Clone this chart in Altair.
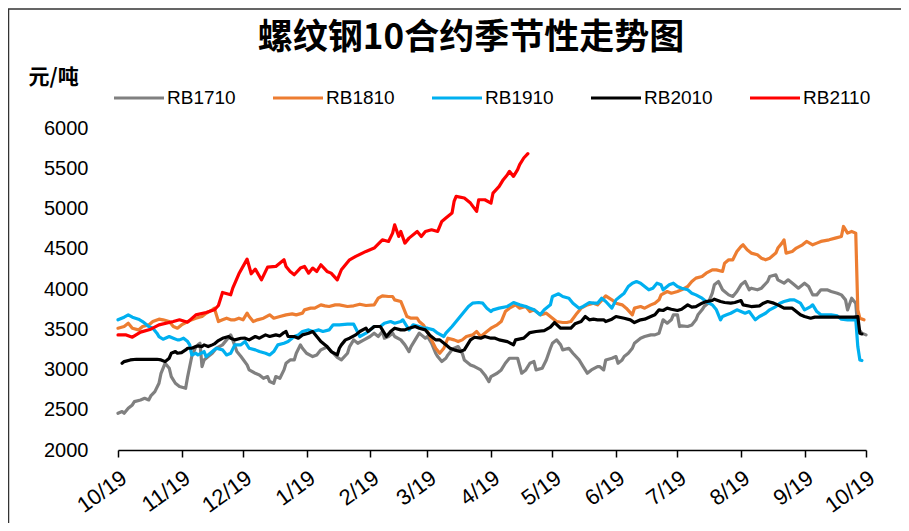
import altair as alt
import pandas as pd

BASE = "2018-10-19"
SERIES = ["RB1710", "RB1810", "RB1910", "RB2010", "RB2110"]
COLORS = ["#808080", "#ED7D31", "#00B0F0", "#000000", "#FF0000"]
WIDTHS = [3.2, 3.2, 3.2, 3.2, 5.5]
Y_TICKS = [2000, 2500, 3000, 3500, 4000, 4500, 5000, 5500, 6000]
X_TICK_MONTHS = [(2018, 10), (2018, 11), (2018, 12), (2019, 1), (2019, 2), (2019, 3), (2019, 4),
                 (2019, 5), (2019, 6), (2019, 7), (2019, 8), (2019, 9), (2019, 10)]
TITLE = "螺纹钢10合约季节性走势图"
UNIT = "元/吨"

# (days since 10/19, price)
RB1710 = [(0,2456),(2,2477),(3,2456),(5,2518),(7,2560),(8,2601),(11,2622),(13,2642),(15,2622),(16,2672),(18,2725),(20,2829),(21,2953),(23,3078),(25,3016),(26,2912),(28,2829),(30,2788),(33,2767),(34,2912),(36,3161),(38,3285),(39,3306),(40,3326),(41,3036),(42,3119),(44,3161),(46,3202),(48,3264),(51,3306),(53,3368),(55,3430),(56,3368),(58,3223),(60,3161),(63,3057),(64,2995),(67,2953),(69,2933),(71,2891),(73,2912),(74,2850),(76,2829),(77,2912),(79,2891),(81,2995),(82,3078),(84,3119),(86,3119),(87,3202),(89,3306),(90,3264),(92,3202),(95,3161),(97,3181),(99,3244),(102,3280),(104,3230),(107,3150),(109,3120),(112,3202),(113,3285),(115,3368),(117,3326),(120,3368),(123,3410),(125,3451),(127,3410),(129,3472),(130,3389),(132,3410),(134,3451),(135,3410),(138,3368),(140,3306),(142,3223),(143,3285),(145,3368),(147,3451),(148,3430),(150,3389),(151,3410),(153,3326),(155,3202),(156,3161),(158,3099),(160,3140),(161,3181),(163,3244),(164,3264),(166,3285),(168,3202),(169,3119),(172,3057),(174,3036),(177,2995),(179,2933),(181,2850),(182,2912),(185,2953),(187,2995),(189,3078),(191,3140),(195,3140),(197,2954),(199,2995),(201,3078),(203,3099),(204,2995),(207,3016),(209,3119),(211,3264),(212,3326),(214,3368),(216,3306),(217,3244),(220,3264),(222,3202),(225,3119),(227,3036),(229,2954),(231,2995),(234,3036),(235,3036),(237,2995),(238,3119),(241,3140),(243,3161),(244,3078),(246,3119),(247,3161),(249,3202),(251,3264),(252,3326),(255,3389),(257,3409),(260,3430),(262,3430),(264,3451),(265,3534),(266,3617),(268,3575),(270,3617),(271,3679),(273,3679),(274,3534),(275,3542),(278,3534),(280,3554),(282,3617),(283,3679),(285,3741),(286,3782),(288,3824),(290,3948),(291,4052),(293,4093),(295,3990),(296,3969),(298,3927),(300,3907),(302,3969),(304,4052),(306,4093),(308,3990),(309,4010),(312,3990),(314,4010),(317,4093),(318,4155),(321,4176),(322,4114),(325,4072),(327,4114),(330,4052),(332,4010),(335,4072),(337,4031),(339,3927),(341,3927),(343,3990),(346,3990),(348,3969),(351,3948),(353,3927),(355,3865),(356,3741),(358,3886),(360,3824),(361,3513),(363,3451),(365,3430)]

RB1810 = [(0,3513),(3,3534),(5,3575),(7,3513),(10,3492),(12,3534),(15,3554),(17,3596),(20,3625),(22,3617),(25,3596),(27,3534),(29,3513),(31,3554),(34,3596),(36,3617),(38,3637),(41,3658),(43,3699),(46,3741),(47,3762),(48,3679),(49,3596),(51,3617),(53,3637),(55,3617),(57,3617),(59,3637),(61,3617),(63,3700),(64,3658),(66,3596),(68,3617),(71,3637),(74,3679),(76,3637),(79,3658),(82,3679),(85,3691),(87,3679),(90,3700),(91,3741),(94,3762),(96,3762),(99,3803),(101,3791),(103,3783),(106,3803),(108,3803),(112,3783),(115,3791),(118,3811),(121,3795),(125,3803),(127,3886),(129,3915),(132,3907),(134,3907),(135,3865),(138,3845),(139,3783),(141,3658),(143,3637),(146,3637),(147,3596),(149,3554),(151,3472),(153,3368),(155,3264),(157,3202),(159,3264),(161,3389),(164,3368),(166,3347),(168,3368),(170,3410),(173,3430),(175,3472),(177,3410),(180,3472),(182,3513),(185,3555),(187,3596),(189,3720),(191,3762),(194,3803),(196,3762),(199,3783),(201,3720),(203,3741),(206,3679),(209,3700),(212,3637),(214,3596),(217,3584),(219,3584),(221,3596),(224,3700),(226,3762),(229,3803),(232,3824),(234,3803),(237,3886),(238,3915),(241,3865),(243,3824),(246,3803),(248,3762),(251,3679),(252,3762),(255,3782),(257,3762),(260,3803),(262,3824),(264,3865),(265,3927),(268,3969),(270,3948),(273,3969),(275,3990),(278,4031),(280,4093),(282,4135),(285,4155),(287,4197),(290,4238),(292,4238),(295,4218),(296,4321),(298,4363),(300,4363),(302,4466),(304,4528),(305,4549),(307,4487),(309,4446),(312,4425),(314,4383),(316,4363),(318,4383),(321,4446),(322,4508),(324,4570),(325,4611),(326,4446),(329,4466),(331,4508),(334,4549),(336,4591),(339,4549),(341,4570),(343,4591),(347,4611),(350,4632),(353,4653),(354,4777),(356,4694),(358,4715),(360,4694),(361,3741),(362,3637),(364,3617)]

RB1910 = [(0,3617),(3,3650),(5,3679),(7,3650),(10,3625),(12,3596),(15,3534),(17,3513),(19,3451),(20,3409),(22,3376),(25,3409),(27,3389),(29,3368),(30,3368),(32,3389),(34,3347),(35,3306),(36,3181),(38,3202),(39,3181),(42,3223),(43,3161),(45,3202),(47,3244),(48,3264),(51,3244),(53,3181),(55,3202),(57,3306),(60,3306),(62,3347),(64,3264),(67,3244),(69,3223),(72,3202),(74,3181),(76,3223),(78,3306),(81,3326),(83,3347),(86,3409),(88,3430),(90,3472),(93,3492),(95,3472),(98,3492),(100,3472),(103,3492),(105,3555),(108,3555),(112,3563),(115,3563),(116,3513),(118,3410),(121,3451),(123,3492),(125,3534),(128,3534),(130,3575),(133,3596),(135,3575),(138,3596),(139,3617),(141,3534),(142,3492),(144,3555),(147,3534),(149,3513),(151,3513),(154,3492),(156,3451),(159,3410),(160,3451),(163,3534),(165,3596),(167,3658),(169,3720),(171,3783),(173,3824),(176,3832),(178,3824),(180,3762),(182,3720),(183,3741),(186,3762),(190,3783),(193,3832),(196,3803),(199,3783),(201,3762),(203,3741),(206,3679),(208,3741),(211,3803),(212,3907),(215,3940),(217,3907),(220,3886),(222,3824),(225,3762),(227,3783),(230,3832),(232,3824),(234,3824),(236,3886),(238,3845),(241,3762),(243,3865),(245,3907),(247,3948),(249,4031),(251,4072),(253,4093),(255,4072),(257,4031),(259,3990),(261,4010),(263,4072),(265,4052),(266,3990),(269,4052),(271,4072),(273,4031),(275,4010),(278,3990),(280,3948),(282,3927),(285,3886),(287,3845),(290,3803),(292,3741),(294,3617),(295,3658),(297,3679),(299,3699),(302,3741),(304,3720),(306,3699),(308,3720),(311,3617),(313,3658),(316,3699),(318,3741),(321,3782),(323,3824),(325,3844),(328,3865),(330,3865),(333,3824),(335,3741),(338,3782),(339,3803),(341,3720),(343,3679),(346,3679),(348,3679),(351,3666),(353,3625),(356,3617),(358,3617),(360,3625),(361,3285),(362,3119),(363,3111)]

RB2010 = [(2,3078),(3,3098),(6,3119),(9,3127),(12,3127),(16,3127),(19,3127),(21,3119),(23,3098),(25,3140),(26,3202),(28,3223),(29,3202),(31,3210),(33,3243),(34,3264),(36,3264),(38,3285),(39,3293),(41,3285),(42,3306),(44,3285),(46,3306),(47,3318),(49,3359),(51,3388),(54,3409),(55,3388),(57,3368),(60,3388),(62,3389),(64,3368),(67,3410),(69,3389),(72,3430),(74,3410),(77,3430),(79,3418),(81,3459),(82,3472),(83,3410),(86,3410),(88,3389),(90,3430),(93,3451),(95,3472),(97,3410),(99,3347),(102,3285),(104,3223),(107,3181),(108,3264),(109,3306),(111,3368),(113,3389),(116,3430),(118,3472),(121,3513),(122,3472),(124,3513),(125,3534),(128,3534),(129,3492),(131,3410),(133,3472),(135,3513),(138,3492),(140,3492),(142,3513),(145,3534),(147,3513),(150,3492),(152,3430),(155,3368),(157,3368),(160,3306),(162,3264),(164,3244),(167,3223),(169,3244),(172,3368),(174,3401),(177,3389),(179,3410),(182,3389),(184,3389),(186,3368),(190,3347),(193,3306),(194,3368),(198,3389),(201,3459),(204,3472),(208,3484),(211,3526),(213,3583),(216,3513),(219,3513),(221,3513),(223,3567),(226,3596),(228,3658),(230,3617),(232,3625),(234,3617),(237,3617),(238,3596),(241,3625),(243,3658),(247,3637),(250,3617),(252,3583),(255,3617),(257,3625),(260,3658),(262,3679),(264,3741),(266,3733),(268,3762),(270,3749),(273,3733),(275,3749),(278,3803),(280,3774),(282,3782),(285,3824),(287,3844),(290,3857),(291,3873),(294,3844),(296,3832),(299,3824),(301,3832),(304,3857),(305,3803),(309,3782),(313,3791),(315,3824),(317,3844),(320,3824),(322,3803),(325,3762),(329,3762),(331,3720),(333,3679),(335,3658),(338,3637),(340,3650),(347,3650),(353,3650),(359,3650),(361,3658),(362,3451),(363,3442)]

RB2110 = [(0,3430),(4,3430),(7,3401),(11,3464),(16,3501),(20,3555),(27,3596),(30,3617),(34,3588),(38,3679),(43,3708),(47,3741),(49,3795),(51,3957),(55,3928),(56,4011),(59,4189),(63,4371),(65,4189),(67,4247),(70,4114),(73,4272),(77,4280),(81,4363),(82,4280),(84,4218),(86,4177),(89,4260),(91,4280),(93,4197),(95,4260),(97,4218),(99,4301),(102,4218),(104,4197),(107,4114),(109,4239),(113,4363),(116,4405),(121,4467),(125,4508),(129,4611),(132,4591),(134,4694),(135,4798),(137,4653),(138,4715),(140,4570),(142,4632),(146,4715),(148,4653),(150,4715),(153,4736),(156,4715),(158,4839),(160,4881),(163,4943),(164,5088),(165,5150),(169,5130),(172,5067),(175,4964),(176,5109),(179,5109),(182,5067),(183,5192),(186,5275),(188,5358),(190,5420),(191,5461),(193,5399),(195,5482),(196,5544),(198,5627),(200,5681)]

rows = []
base = pd.Timestamp(BASE)
for name, pts in zip(SERIES, [RB1710, RB1810, RB1910, RB2010, RB2110]):
    for d, v in pts:
        rows.append({"series": name, "date": (base + pd.Timedelta(days=d)).strftime("%Y-%m-%dT%H:%M:%S"), "price": v})
df = pd.DataFrame(rows)

FONT = "Liberation Sans"
CJK = "Noto Sans CJK SC"

tick_values = [alt.DateTime(year=y, month=m, date=19) for y, m in X_TICK_MONTHS]

lines = alt.Chart(df).mark_line(strokeJoin="round", strokeCap="round").encode(
    x=alt.X("date:T",
            scale=alt.Scale(domain=[tick_values[0], tick_values[-1]]),
            axis=alt.Axis(values=tick_values, format="%-m/%d", title=None, grid=False,
                          labelAngle=-36, labelAlign="right", labelBaseline="top",
                          labelFont=FONT, labelFontSize=22, labelColor="black", labelPadding=10,
                          domainColor="black", domainWidth=1.5, tickColor="black",
                          tickWidth=1.5, tickSize=7, labelOverlap=False, labelFlush=False)),
    y=alt.Y("price:Q",
            scale=alt.Scale(domain=[2000, 6000], nice=False, zero=False),
            axis=alt.Axis(values=Y_TICKS, format="d", grid=False, domain=False, ticks=False,
                          labelFont=FONT, labelFontSize=20, labelColor="black", labelPadding=30,
                          title=UNIT, titleAngle=0, titleX=-90, titleY=-51, titleAlign="left",
                          titleBaseline="middle", titleFont=CJK, titleFontSize=21,
                          titleFontWeight="bold", titleColor="black")),
    color=alt.Color("series:N", scale=alt.Scale(domain=SERIES, range=COLORS),
                    legend=alt.Legend(orient="none", legendX=-6, legendY=-57, direction="horizontal",
                                      title=None, symbolType="stroke", symbolSize=2500,
                                      labelFont=FONT, labelFontSize=19, labelColor="black",
                                      columnPadding=30, labelOffset=1, padding=0)),
    strokeWidth=alt.StrokeWidth("series:N", scale=alt.Scale(domain=SERIES, range=WIDTHS)),
)

one = pd.DataFrame({"k": [0]})
border = alt.Chart(one).mark_rect(fill=None, stroke="#333333", strokeWidth=1.5).encode(
    x=alt.value(-109.5), x2=alt.value(900), y=alt.value(-119), y2=alt.value(500))

title = alt.Chart(one).mark_text(font=CJK, fontSize=35, fontWeight="bold", color="black",
                                 align="center", baseline="middle").encode(
    x=alt.value(353), y=alt.value(-90), text=alt.value(TITLE))

chart = alt.layer(border, lines, title).properties(
    width=748, height=322,
    autosize=alt.AutoSizeParams(type="none"),
    padding={"left": 110, "top": 120, "right": 35, "bottom": 73},
).configure_view(stroke=None)

chart.save("out.html", embed_options={"renderer": "svg", "actions": False})
